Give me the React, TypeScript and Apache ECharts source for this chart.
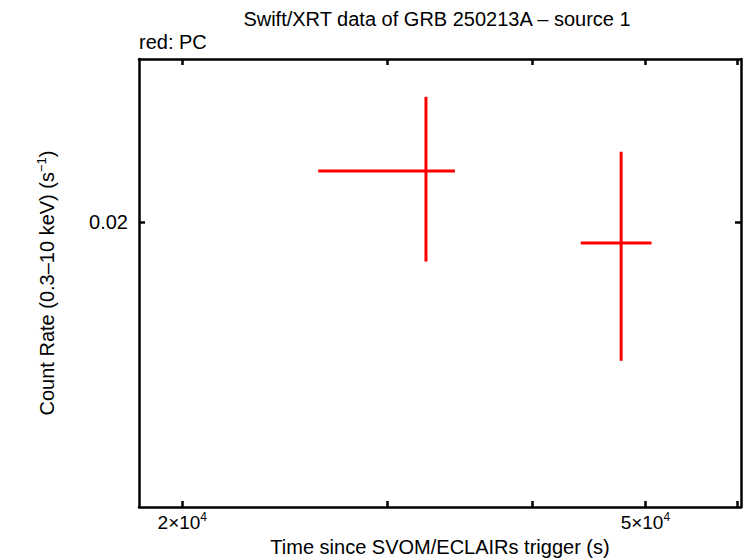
import React, { useEffect, useRef } from "react";
import * as echarts from "echarts";

// Swift/XRT PC mode points (time since trigger, s; count rate, s^-1)
const timeCenter = [32390, 47660];
const timeLow = [26170, 44000];
const timeHigh = [34300, 50610];
const rate = [0.02266, 0.019];
const rateErr = [0.0045, 0.00475];

const xTicks = [20000, 30000, 40000, 50000, 60000];
const xLabelValues = [20000, 50000];
const yTicks = [0.02];
const yLabelValues = [0.02];

const FONT = "'Liberation Sans', Arial, Helvetica, sans-serif";

function sciLabel(v: number): string {
  const exp = Math.floor(Math.log10(v) + 1e-9);
  const mant = Math.round(v / Math.pow(10, exp));
  return `{a|${mant}×10}{s|${exp}}`;
}

export default function App() {
  const ref = useRef<HTMLDivElement>(null);
  useEffect(() => {
    if (!ref.current) return;
    const chart = echarts.init(ref.current, undefined, { renderer: "svg" });
    const data = timeCenter.map((t, i) => [
      t,
      timeLow[i],
      timeHigh[i],
      rate[i],
      rate[i] - rateErr[i],
      rate[i] + rateErr[i],
    ]);
    const axisLine = { show: true, lineStyle: { color: "#000", width: 2.5 } };
    const tickStyle = { color: "#000", width: 2.5 };
    chart.setOption({
      animation: false,
      backgroundColor: "#fff",
      textStyle: { fontFamily: FONT },
      title: [
        {
          text: "Swift/XRT data of GRB 250213A \u2013 source 1",
          left: 437,
          top: 9,
          padding: 0,
          textAlign: "center",
          textStyle: { fontFamily: FONT, fontSize: 20, fontWeight: "normal", color: "#000" },
        },
        {
          text: "red: PC",
          left: 139,
          top: 32,
          padding: 0,
          textStyle: { fontFamily: FONT, fontSize: 20, fontWeight: "normal", color: "#000" },
        },
      ],
      grid: {
        left: 139,
        right: 5,
        top: 59,
        bottom: 51,
        containLabel: false,
        outerBoundsMode: "none",
      },
      xAxis: [
        {
          type: "log",
          logBase: 10,
          min: 18357,
          max: 60415,
          position: "bottom",
          name: "Time since SVOM/ECLAIRs trigger (s)",
          nameLocation: "middle",
          nameGap: 30,
          nameTextStyle: { fontFamily: FONT, fontSize: 20, color: "#000" },
          axisLine,
          splitLine: { show: false },
          minorTick: { show: false },
          axisTick: { show: true, inside: true, length: 6, lineStyle: tickStyle, customValues: xTicks },
          axisLabel: {
            show: true,
            margin: 4,
            customValues: xLabelValues,
            formatter: (v: number) => sciLabel(v),
            rich: {
              a: { fontFamily: FONT, fontSize: 19, color: "#000" },
              s: { fontFamily: FONT, fontSize: 12, color: "#000", padding: [0, 0, 10, 0] },
            },
          },
        },
        {
          type: "log",
          logBase: 10,
          min: 18357,
          max: 60415,
          position: "top",
          axisLine,
          splitLine: { show: false },
          axisTick: { show: true, inside: true, length: 6, lineStyle: tickStyle, customValues: xTicks },
          axisLabel: { show: false },
        },
      ],
      yAxis: [
        {
          type: "log",
          logBase: 10,
          min: 0.00997,
          max: 0.02979,
          position: "left",
          name: "{a|Count Rate (0.3\u201310 keV) (s}{s|\u22121}{a|)}",
          nameLocation: "middle",
          nameGap: 81,
          nameTextStyle: {
            fontFamily: FONT,
            fontSize: 20,
            color: "#000",
            rich: {
              a: { fontFamily: FONT, fontSize: 20, color: "#000" },
              s: { fontFamily: FONT, fontSize: 13, color: "#000", padding: [0, 0, 10, 0] },
            },
          },
          axisLine,
          splitLine: { show: false },
          axisTick: { show: true, inside: true, length: 6, lineStyle: tickStyle, customValues: yTicks },
          axisLabel: {
            show: true,
            margin: 11,
            customValues: yLabelValues,
            fontFamily: FONT,
            fontSize: 20,
            color: "#000",
            formatter: (v: number) => String(v),
          },
        },
        {
          type: "log",
          logBase: 10,
          min: 0.00997,
          max: 0.02979,
          position: "right",
          axisLine,
          splitLine: { show: false },
          axisTick: { show: true, inside: true, length: 6, lineStyle: tickStyle, customValues: yTicks },
          axisLabel: { show: false },
        },
      ],
      series: [
        {
          type: "custom",
          xAxisIndex: 0,
          yAxisIndex: 0,
          data,
          encode: { x: [0, 1, 2], y: [3, 4, 5] },
          renderItem: (params: any, api: any) => {
            const xc = api.value(0);
            const xl = api.value(1);
            const xh = api.value(2);
            const yc = api.value(3);
            const yl = api.value(4);
            const yh = api.value(5);
            const pL = api.coord([xl, yc]);
            const pR = api.coord([xh, yc]);
            const pT = api.coord([xc, yh]);
            const pB = api.coord([xc, yl]);
            const style = { stroke: "#ff0000", lineWidth: 3 };
            return {
              type: "group",
              children: [
                { type: "line", shape: { x1: pL[0], y1: pL[1], x2: pR[0], y2: pR[1] }, style },
                { type: "line", shape: { x1: pT[0], y1: pT[1], x2: pB[0], y2: pB[1] }, style },
              ],
            };
          },
        },
      ],
    });
    return () => chart.dispose();
  }, []);
  return <div ref={ref} style={{ width: 746, height: 558, position: "absolute", left: 0, top: 0 }} />;
}
